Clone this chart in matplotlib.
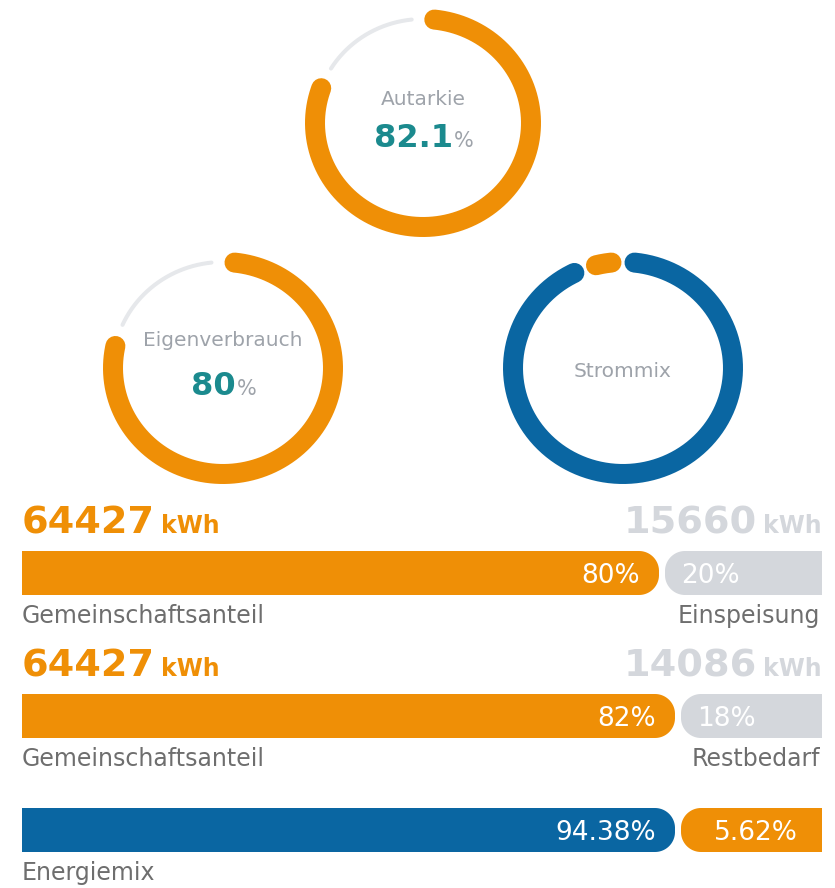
import matplotlib
matplotlib.use("Agg")
import matplotlib.pyplot as plt
import numpy as np
from matplotlib.patches import Polygon

# ring gauges
autarkie_pct = 82.1
eigenverbrauch_pct = 80.0
strommix_pct = [94.38, 5.62]          # Netz (blau), Gemeinschaft (orange)

# split bars
bar_left_kwh = [64427, 64427]
bar_right_kwh = [15660, 14086]
bar_left_pct = [80, 82]
bar_right_pct = [20, 18]
bar_left_labels = ["Gemeinschaftsanteil", "Gemeinschaftsanteil"]
bar_right_labels = ["Einspeisung", "Restbedarf"]
mix_pct = [94.38, 5.62]
mix_label = "Energiemix"

ORANGE = "#ef8f06"
BLUE = "#0a66a2"
TEAL = "#1b8a8e"
TRACK = "#e6e8eb"
LIGHT = "#d4d7dc"
LABEL = "#6e6e6e"
RINGLABEL = "#9ea3aa"

fig = plt.figure(figsize=(8.35, 8.88), dpi=100)
ax = fig.add_axes([0, 0, 1, 1])
ax.set_xlim(0, 835)
ax.set_ylim(888, 0)
ax.axis("off")


def arc(cx, cy, rx, ry, a0, a1, color, lw):
    # angles in degrees, clockwise from 12 o'clock
    t = np.radians(np.linspace(a0, a1, 240))
    ax.plot(cx + rx * np.sin(t), cy - ry * np.cos(t), color=color, lw=lw,
            solid_capstyle="round")


def ring(cx, cy, rx, ry, shares, colors, widths, gap=6):
    start = 0
    for share, color, w in zip(shares, colors, widths):
        span = share / 100 * 360
        arc(cx, cy, rx, ry, start + gap, start + span - gap, color, w)
        start += span


def value_text(cx, y, value):
    num = ax.text(0, y, value, fontsize=23, fontweight="bold", color=TEAL,
                  ha="left", va="baseline")
    pct = ax.text(0, y, "%", fontsize=15, color=RINGLABEL, ha="left", va="baseline")
    r = fig.canvas.get_renderer()
    w1 = num.get_window_extent(r).width
    w2 = pct.get_window_extent(r).width
    x0 = cx - (w1 + w2) / 2
    num.set_x(x0)
    pct.set_x(x0 + w1 + 1)


# Autarkie
ring(423, 123, 108, 104, [autarkie_pct, 100 - autarkie_pct], [ORANGE, TRACK], [14.4, 2.9])
ax.text(423, 105, "Autarkie", fontsize=14.5, color=RINGLABEL, ha="center", va="baseline")
value_text(423, 147, f"{autarkie_pct:.1f}")

# Eigenverbrauch
ring(223, 368, 110, 106, [eigenverbrauch_pct, 100 - eigenverbrauch_pct], [ORANGE, TRACK], [14.4, 2.9])
ax.text(223, 346, "Eigenverbrauch", fontsize=14.5, color=RINGLABEL, ha="center", va="baseline")
value_text(223, 395, f"{eigenverbrauch_pct:.0f}")

# Strommix
ring(623, 368, 110, 106, strommix_pct, [BLUE, ORANGE], [14.4, 14.4])
ax.text(623, 377, "Strommix", fontsize=14.5, color=RINGLABEL, ha="center", va="baseline")


def segment(x0, x1, y0, y1, round_left, round_right, color, r=20):
    pts = []
    if round_left:
        a = np.radians(np.linspace(180, 270, 20))
        pts += list(zip(x0 + r + r * np.cos(a), y0 + r + r * np.sin(a)))
    else:
        pts += [(x0, y1), (x0, y0)]
    if round_right:
        a = np.radians(np.linspace(-90, 90, 40))
        top = list(zip(x1 - r + r * np.cos(a[:20]), y0 + r + r * np.sin(a[:20])))
        bot = list(zip(x1 - r + r * np.cos(a[20:]), y1 - r + r * np.sin(a[20:])))
        pts += top + bot
    else:
        pts += [(x1, y0), (x1, y1)]
    if round_left:
        a = np.radians(np.linspace(90, 180, 20))
        pts += list(zip(x0 + r + r * np.cos(a), y1 - r + r * np.sin(a)))
    ax.add_patch(Polygon(pts, closed=True, facecolor=color, edgecolor="none"))


BX0, BX1, BH = 22, 822, 44
MIN_SHARE = 18


def split_bar(top, left_pct, right_pct, left_color, right_color, fmt="{:.0f}",
              center_right=False):
    shown_right = max(right_pct, MIN_SHARE)
    split = BX0 + (BX1 - BX0) * (100 - shown_right) / 100
    bottom = top + BH
    segment(BX0, split - 3, top, bottom, False, True, left_color)
    segment(split + 3, BX1, top, bottom, True, False, right_color)
    base = top + BH / 2 + 9.5
    ax.text(split - 22, base, fmt.format(left_pct) + "%", fontsize=19, color="white",
            ha="right", va="baseline")
    if center_right:
        ax.text((split + 3 + BX1) / 2 + 4, base, fmt.format(right_pct) + "%", fontsize=19,
                color="white", ha="center", va="baseline")
    else:
        ax.text(split + 19, base, fmt.format(right_pct) + "%", fontsize=19, color="white",
                ha="left", va="baseline")
    return bottom


bar_tops = [551, 694]
for i, top in enumerate(bar_tops):
    r = fig.canvas.get_renderer()
    num = ax.text(BX0, top - 18, f"{bar_left_kwh[i]}", fontsize=27.5, fontweight="bold",
                  color=ORANGE, ha="left", va="baseline")
    w = num.get_window_extent(r).width
    ax.text(BX0 + w + 6, top - 18, "kWh", fontsize=17, fontweight="bold",
            color=ORANGE, ha="left", va="baseline")
    kwh = ax.text(BX1, top - 18, "kWh", fontsize=17, fontweight="bold",
                  color=LIGHT, ha="right", va="baseline")
    w = kwh.get_window_extent(r).width
    ax.text(BX1 - w - 6, top - 18, f"{bar_right_kwh[i]}", fontsize=27.5,
            fontweight="bold", color=LIGHT, ha="right", va="baseline")
    bottom = split_bar(top, bar_left_pct[i], bar_right_pct[i], ORANGE, LIGHT)
    ax.text(BX0, bottom + 28, bar_left_labels[i], fontsize=17, color=LABEL,
            ha="left", va="baseline")
    ax.text(BX1 - 2, bottom + 28, bar_right_labels[i], fontsize=17, color=LABEL,
            ha="right", va="baseline")

bottom = split_bar(808, mix_pct[0], mix_pct[1], BLUE, ORANGE, fmt="{:.2f}",
                   center_right=True)
ax.text(BX0, bottom + 28, mix_label, fontsize=17, color=LABEL, ha="left", va="baseline")

fig.savefig("out.png", dpi=100)
